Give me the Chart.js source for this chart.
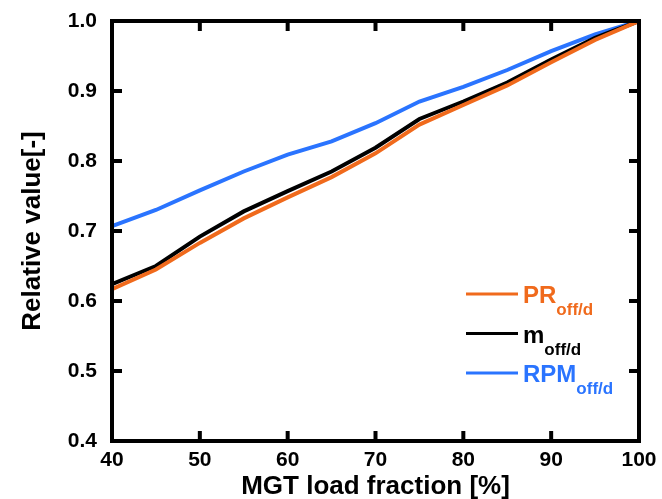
<!DOCTYPE html>
<html>
<head>
<meta charset="utf-8">
<script src="https://cdn.jsdelivr.net/npm/chart.js@4/dist/chart.umd.min.js"></script>
<style>
  body { margin: 0; background: #fff; }
  #wrap { width: 662px; height: 499px; }
</style>
</head>
<body>
<div id="wrap"><canvas id="chart" width="662" height="499"></canvas></div>
<script>
// MGT load fraction [%]
const loads = [40, 45, 50, 55, 60, 65, 70, 75, 80, 85, 90, 95, 100];
// relative values
const prOff  = [0.617, 0.645, 0.683, 0.718, 0.748, 0.777, 0.811, 0.852, 0.880, 0.908, 0.941, 0.973, 1.0];
const mOff   = [0.624, 0.650, 0.692, 0.728, 0.757, 0.785, 0.819, 0.860, 0.885, 0.912, 0.945, 0.976, 1.0];
const rpmOff = [0.707, 0.730, 0.758, 0.785, 0.809, 0.828, 0.854, 0.885, 0.906, 0.930, 0.957, 0.981, 1.0];
const xTicks = [40, 50, 60, 70, 80, 90, 100];
const yTicks = [0.4, 0.5, 0.6, 0.7, 0.8, 0.9, 1.0];

const orange = "#f06a1c";
const blue = "#2a74ff";
const FONT = "Liberation Sans, Arial, Helvetica, sans-serif";

const pts = (ys) => loads.map((x, i) => ({ x: x, y: ys[i] }));

// legend entries: main text + subscript
const legendItems = [
  { main: "PR", sub: "off/d", color: orange },
  { main: "m", sub: "off/d", color: "#000" },
  { main: "RPM", sub: "off/d", color: blue },
];

// frame with inward ticks on all four sides, plus the legend
const framePlugin = {
  id: "frame",
  afterDatasetsDraw(chart) {
    const { ctx, chartArea: a, scales } = chart;
    ctx.save();
    ctx.strokeStyle = "#000";
    ctx.lineWidth = 4;
    ctx.strokeRect(a.left, a.top, a.right - a.left, a.bottom - a.top);
    const len = 10;
    ctx.beginPath();
    xTicks.forEach(v => {
      const px = scales.x.getPixelForValue(v);
      ctx.moveTo(px, a.bottom); ctx.lineTo(px, a.bottom - len);
      ctx.moveTo(px, a.top); ctx.lineTo(px, a.top + len);
    });
    yTicks.forEach(v => {
      const py = scales.y.getPixelForValue(v);
      ctx.moveTo(a.left, py); ctx.lineTo(a.left + len, py);
      ctx.moveTo(a.right, py); ctx.lineTo(a.right - len, py);
    });
    ctx.stroke();

    // legend
    const lx = a.left + 354, ly = a.top + 273, gap = 39.5;
    legendItems.forEach((it, i) => {
      const y = ly + i * gap;
      ctx.strokeStyle = it.color;
      ctx.lineWidth = 3;
      ctx.beginPath();
      ctx.moveTo(lx, y); ctx.lineTo(lx + 52, y);
      ctx.stroke();
      ctx.fillStyle = it.color;
      ctx.textBaseline = "alphabetic";
      ctx.textAlign = "left";
      ctx.font = "bold 24px " + FONT;
      ctx.fillText(it.main, lx + 57, y + 9);
      const w = ctx.measureText(it.main).width;
      ctx.font = "bold 17px " + FONT;
      ctx.fillText(it.sub, lx + 57 + w, y + 21);
    });
    ctx.restore();
  }
};

const ds = (label, ys, color) => ({
  label: label,
  data: pts(ys),
  borderColor: color,
  backgroundColor: color,
  borderWidth: 4,
  pointRadius: 0,
  tension: 0,
  fill: false,
});

new Chart(document.getElementById("chart").getContext("2d"), {
  type: "line",
  data: {
    datasets: [
      ds("PRoff/d", prOff, orange),
      ds("moff/d", mOff, "#000"),
      ds("RPMoff/d", rpmOff, blue),
    ]
  },
  options: {
    responsive: false,
    animation: false,
    layout: { padding: { top: 21, right: 23, left: 0, bottom: 0 } },
    plugins: { legend: { display: false }, tooltip: { enabled: false } },
    scales: {
      x: {
        type: "linear",
        min: 40, max: 100,
        afterBuildTicks: (s) => { s.ticks = xTicks.map(v => ({ value: v })); },
        afterFit: (s) => { s.height = 58; s.paddingLeft = 0; s.paddingRight = 0; },
        grid: { display: false, drawTicks: false },
        border: { display: false },
        ticks: { color: "#000", padding: 7, maxRotation: 0, font: { family: FONT, size: 21, weight: "bold" } },
        title: { display: true, text: "MGT load fraction [%]", color: "#000", padding: { top: 0, bottom: -3 },
                 font: { family: FONT, size: 26, weight: "bold" } }
      },
      y: {
        min: 0.4, max: 1.0,
        afterBuildTicks: (s) => { s.ticks = yTicks.map(v => ({ value: v })); },
        afterFit: (s) => { s.width = 112; s.paddingTop = 0; s.paddingBottom = 0; },
        grid: { display: false, drawTicks: false },
        border: { display: false },
        ticks: { color: "#000", padding: 15, callback: (v) => v.toFixed(1),
                 font: { family: FONT, size: 21, weight: "bold" } },
        title: { display: true, text: "Relative value[-]", color: "#000", padding: { top: 17, bottom: 0 },
                 font: { family: FONT, size: 26, weight: "bold" } }
      }
    }
  },
  plugins: [framePlugin]
});
</script>
</body>
</html>
